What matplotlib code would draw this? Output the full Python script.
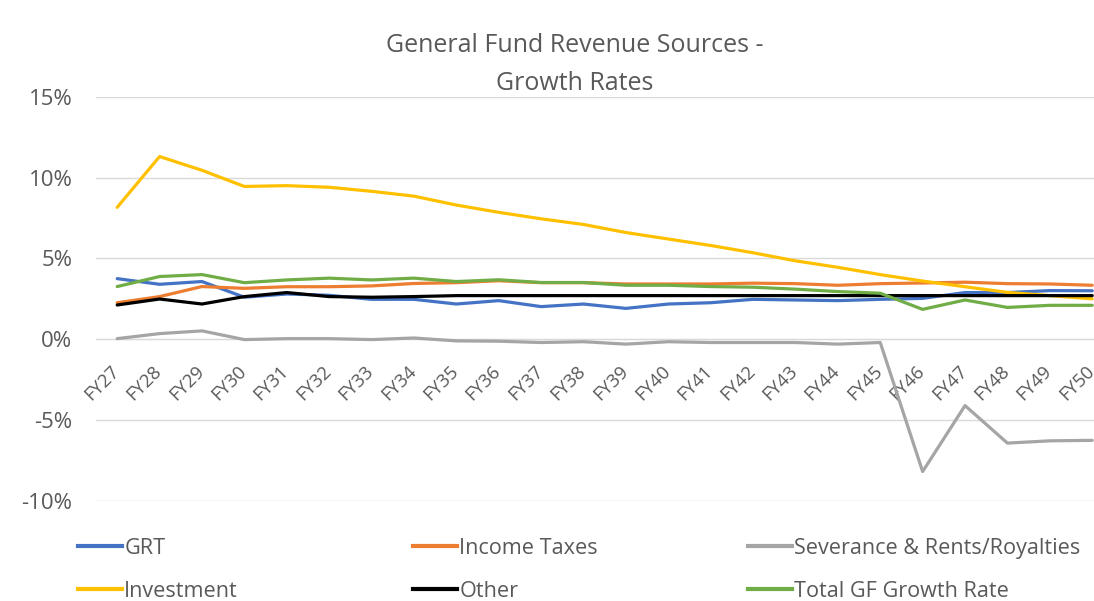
import matplotlib
matplotlib.use("Agg")
import matplotlib.pyplot as plt
import matplotlib.transforms as mtransforms
from matplotlib.ticker import FuncFormatter, MultipleLocator
from matplotlib.lines import Line2D

years = ["FY27", "FY28", "FY29", "FY30", "FY31", "FY32", "FY33", "FY34", "FY35", "FY36",
         "FY37", "FY38", "FY39", "FY40", "FY41", "FY42", "FY43", "FY44", "FY45", "FY46",
         "FY47", "FY48", "FY49", "FY50"]

grt = [3.75, 3.40, 3.57, 2.60, 2.80, 2.72, 2.47, 2.47, 2.18, 2.39, 2.02, 2.18, 1.91, 2.18,
       2.26, 2.47, 2.43, 2.39, 2.47, 2.53, 2.89, 2.89, 3.01, 3.00]
income = [2.26, 2.64, 3.26, 3.15, 3.25, 3.25, 3.30, 3.45, 3.50, 3.62, 3.50, 3.50, 3.42, 3.42,
          3.42, 3.47, 3.44, 3.34, 3.44, 3.48, 3.53, 3.44, 3.42, 3.34]
severance = [0.04, 0.35, 0.52, -0.02, 0.04, 0.04, -0.02, 0.08, -0.10, -0.12, -0.20, -0.15,
             -0.30, -0.15, -0.20, -0.20, -0.20, -0.30, -0.20, -8.18, -4.10, -6.42, -6.28, -6.25]
investment = [8.16, 11.30, 10.45, 9.45, 9.50, 9.40, 9.15, 8.85, 8.30, 7.85, 7.45, 7.10, 6.60,
              6.20, 5.80, 5.35, 4.85, 4.45, 4.00, 3.60, 3.25, 2.90, 2.70, 2.50]
other = [2.12, 2.49, 2.18, 2.64, 2.89, 2.64, 2.60, 2.64, 2.70, 2.70, 2.70, 2.70, 2.70, 2.70,
         2.70, 2.70, 2.70, 2.70, 2.70, 2.70, 2.70, 2.70, 2.70, 2.70]
total = [3.26, 3.88, 4.00, 3.50, 3.67, 3.78, 3.67, 3.78, 3.57, 3.68, 3.51, 3.51, 3.34, 3.34,
         3.26, 3.22, 3.10, 2.95, 2.85, 1.85, 2.43, 1.97, 2.10, 2.10]

series_names = ["GRT", "Income Taxes", "Severance & Rents/Royalties", "Investment", "Other",
                "Total GF Growth Rate"]
series_values = [grt, income, severance, investment, other, total]
series_colors = ["#4472C4", "#ED7D31", "#A5A5A5", "#FFC000", "#000000", "#70AD47"]

txt = "#595959"
fig = plt.figure(figsize=(10.94, 6.01), dpi=100)
ax = fig.add_axes([96 / 1094, 100 / 601, 1017.4 / 1094, 404.3 / 601])

x = list(range(len(years)))
for name, vals, col in zip(series_names, series_values, series_colors):
    ax.plot(x, vals, color=col, lw=2.3, solid_capstyle="round", solid_joinstyle="round",
            label=name)

ax.set_xlim(-0.5, len(years) - 0.5)
ax.set_ylim(-10, 15)
ax.yaxis.set_major_locator(MultipleLocator(5))
ax.yaxis.set_major_formatter(FuncFormatter(lambda v, p: f"{v:.0f}%".replace("\u2212", "-")))
ax.grid(axis="y", color="#D9D9D9", lw=1)
ax.set_axisbelow(True)
for s in ["top", "right", "left"]:
    ax.spines[s].set_visible(False)
ax.spines["bottom"].set_position(("data", 0))
ax.spines["bottom"].set_color("#D9D9D9")
ax.spines["bottom"].set_zorder(0.5)
ax.tick_params(axis="y", length=0, pad=17, labelsize=16, labelcolor=txt)
ax.tick_params(axis="x", length=0, pad=16.5, labelsize=13.3, labelcolor=txt)
ax.set_xticks(x)
ax.set_xticklabels(years, rotation=45, ha="right", va="top", rotation_mode="anchor")
for lab in ax.get_yticklabels():
    lab.set_fontfamily("Open Sans")
shift = mtransforms.ScaledTranslation(-7 / 100, 0, fig.dpi_scale_trans)
for lab in ax.get_xticklabels():
    lab.set_fontfamily("Open Sans")
    lab.set_transform(lab.get_transform() + shift)

fig.text(575 / 1094, 1 - 45.5 / 601, "General Fund Revenue Sources -", ha="center", va="center",
         fontsize=18, color=txt, family="Open Sans")
fig.text(575 / 1094, 1 - 83.5 / 601, "Growth Rates", ha="center", va="center",
         fontsize=18, color=txt, family="Open Sans")

handles = [Line2D([], [], color=c, lw=3) for c in series_colors]
col_x = [78, 413, 748]
pairs = [(0, 3), (1, 4), (2, 5)]
for cx, (a, b) in zip(col_x, pairs):
    leg = fig.legend([handles[a], handles[b]], [series_names[a], series_names[b]],
                     loc="upper left", bbox_to_anchor=(cx / 1094, 1 - 538 / 601),
                     frameon=False, handlelength=2.03, handletextpad=0.1,
                     labelspacing=1.0, borderpad=0, borderaxespad=0,
                     prop={"family": "Open Sans", "size": 15.6})
    for t in leg.get_texts():
        t.set_color(txt)

fig.savefig("out.png", dpi=100)
